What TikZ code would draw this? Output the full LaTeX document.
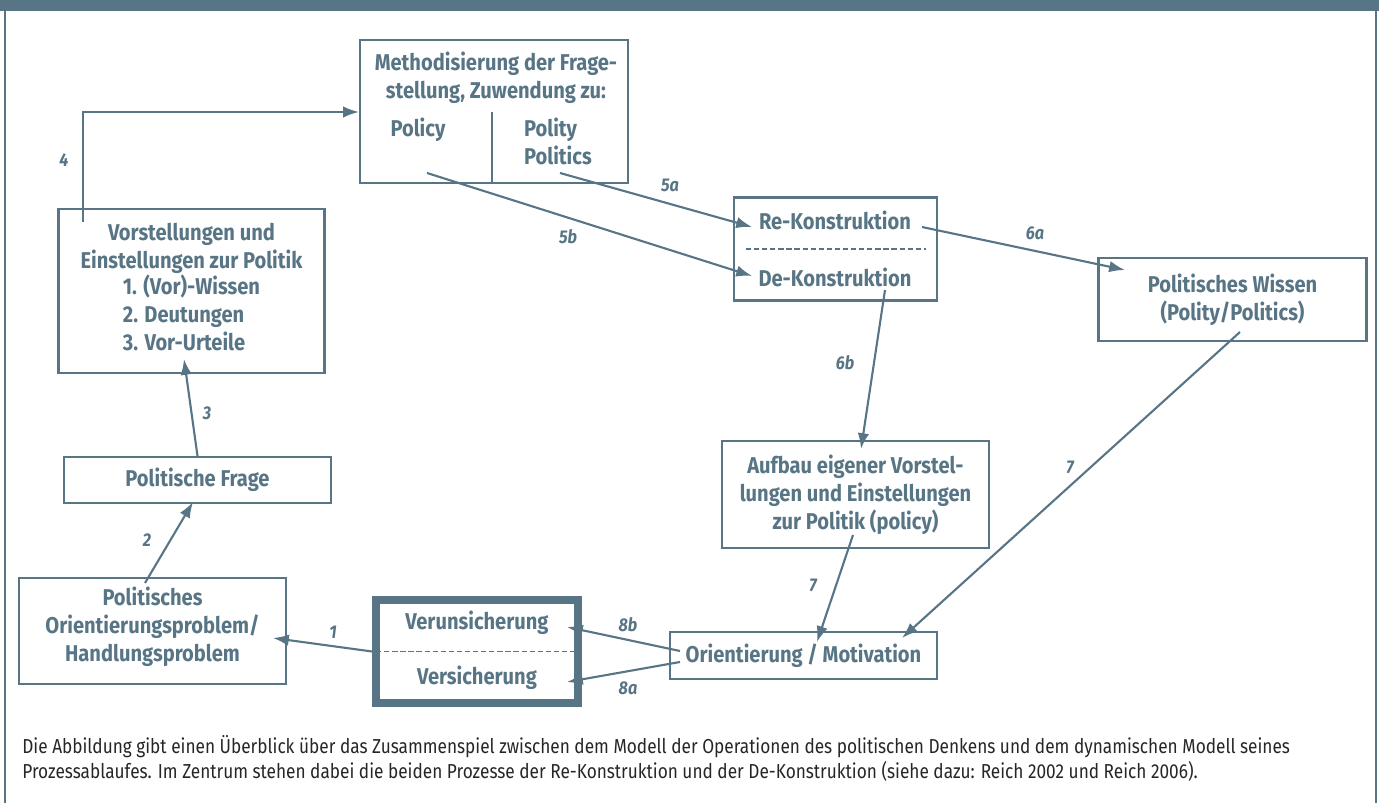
\documentclass[tikz,border=0pt]{standalone}
\usepackage{fontspec}
\setmainfont{Fira Sans}
\newfontfamily\boxfont{Fira Sans}[FakeStretch=0.88]
\newfontfamily\capfont{Fira Sans}[FakeStretch=0.853]
\usetikzlibrary{arrows.meta}
\definecolor{slate}{HTML}{587585}

\tikzset{
    box/.style={draw=slate, line width=1.2pt, inner sep=0pt},
    boxtext/.style={text=slate, align=center, inner sep=1pt,
        font=\boxfont\bfseries\fontsize{13}{16}\selectfont},
    num/.style={text=slate, inner sep=1pt,
        font=\boxfont\bfseries\itshape\fontsize{10.5}{12}\selectfont},
    flow/.style={draw=slate, line width=1.2pt, -{Latex[length=9pt,width=6.5pt]}},
    divide/.style={draw=slate, line width=1pt, dash pattern=on 3pt off 1.6pt},
}

\begin{document}
\begin{tikzpicture}[x=0.02cm, y=-0.02cm]
    \useasboundingbox (0,0) rectangle (1379,803);

    % Frame
    \fill [slate] (0,0) rectangle (1379,11);
    \draw [slate, line width=1.2pt] (5,11) -- (5,803);
    \draw [slate, line width=1.2pt] (1376,11) -- (1376,803);

    % Methodisierung
    \node (meth) [box, minimum width=5.36cm, minimum height=2.86cm] at (494,111.5) {};
    \node (methtitle) [boxtext] at (496,78) {Methodisierung der Frage-\\stellung, Zuwendung zu:};
    \node (policy) [boxtext] at (418,130) {Policy};
    \node (polity) [boxtext, align=left, anchor=west] at (522,141) {Polity\\Politics};
    \coordinate (divtop) at (492,112);
    \draw [slate, line width=1.2pt] (divtop) -- (divtop |- meth.south);

    % Left column
    \node (vorst) [box, boxtext, minimum width=5.32cm, minimum height=3.28cm] at (191.5,291)
        {Vorstellungen und\\Einstellungen zur Politik\\
         \begin{tabular}{@{}l@{}}1. (Vor)-Wissen\\2. Deutungen\\3. Vor-Urteile\end{tabular}};
    \node (frage) [box, boxtext, minimum width=5.34cm, minimum height=0.92cm] at (197.5,480) {Politische Frage};
    \node (orient) [box, minimum width=5.34cm, minimum height=2.12cm] at (152.5,631) {};
    \node (orienttext) [boxtext] at (152.5,627)
        {Politisches\\Orientierungsproblem/\\Handlungsproblem};

    % Verunsicherung / Versicherung
    \node (unsich) [box, line width=4.5pt, minimum width=4.04cm, minimum height=2.06cm] at (477,651.5) {};
    \node (verun) [boxtext] at (477,623) {Verunsicherung};
    \node (versich) [boxtext] at (477,678) {Versicherung};
    \draw [divide] ([xshift=0.08cm]unsich.west) -- ([xshift=-0.12cm]unsich.east);

    % Re-/De-Konstruktion
    \node (konstr) [box, minimum width=4.06cm, minimum height=2.06cm] at (835.5,249) {};
    \node (rekon) [boxtext] at (835,220) {Re-Konstruktion};
    \node (dekon) [boxtext] at (835,277) {De-Konstruktion};
    \draw [divide] ([xshift=0.26cm]konstr.west) -- ([xshift=-0.24cm]konstr.east);

    % Right side
    \node (wissen) [box, boxtext, minimum width=5.36cm, minimum height=1.66cm] at (1232.5,299.5)
        {Politisches Wissen\\(Polity/Politics)};
    \node (aufbau) [box, boxtext, minimum width=5.34cm, minimum height=2.14cm] at (855.5,494.5)
        {Aufbau eigener Vorstel-\\lungen und Einstellungen\\zur Politik (policy)};
    \node (motiv) [box, boxtext, minimum width=5.34cm, minimum height=0.94cm] at (803.5,655.5)
        {Orientierung / Motivation};

    % Arrow ends
    \coordinate (a1e) at (273,638);
    \coordinate (a2s) at (145,583);
    \coordinate (a2e) at (193,502);
    \coordinate (a3e) at (184,359);
    \coordinate (a4s) at (83,222);
    \coordinate (a5as) at (560,173);
    \coordinate (a5ae) at (752,227);
    \coordinate (a5bs) at (427,173);
    \coordinate (a5be) at (752,276);
    \coordinate (a6as) at (922,227);
    \coordinate (a6ae) at (1125,270);
    \coordinate (a6bs) at (885,290);
    \coordinate (a6be) at (861,449);
    \coordinate (a7ls) at (853,535);
    \coordinate (a7le) at (817,642);
    \coordinate (a7rs) at (1240,332);
    \coordinate (a7re) at (902,638);
    \coordinate (a8bs) at (680,651);
    \coordinate (a8be) at (567,627);
    \coordinate (a8as) at (680,662);
    \coordinate (a8ae) at (567,682);

    % Arrows
    \draw [flow] (unsich.west) -- (a1e);
    \draw [flow] (a2s) -- (a2e);
    \draw [flow] (frage.north) -- (a3e);
    \draw [flow] (a4s) |- (meth.west |- divtop);
    \draw [flow] (a5as) -- (a5ae);
    \draw [flow] (a5bs) -- (a5be);
    \draw [flow] (a6as) -- (a6ae);
    \draw [flow] (a6bs) -- (a6be);
    \draw [flow] (a7ls) -- (a7le);
    \draw [flow] (a7rs) -- (a7re);
    \draw [flow] (a8bs) -- (a8be);
    \draw [flow] (a8as) -- (a8ae);

    % Numbers
    \node (n1) [num] at (333,632) {1};
    \node (n2) [num] at (147,540) {2};
    \node (n3) [num] at (207,413) {3};
    \node (n4) [num] at (64,160) {4};
    \node (n5a) [num] at (670,185) {5a};
    \node (n5b) [num] at (568,237) {5b};
    \node (n6a) [num] at (1035,233) {6a};
    \node (n6b) [num] at (845,363) {6b};
    \node (n7l) [num] at (813,585) {7};
    \node (n7r) [num] at (1070,467) {7};
    \node (n8b) [num] at (628,625) {8b};
    \node (n8a) [num] at (628,688) {8a};

    % Caption
    \node (caption) [anchor=base west, align=left, inner sep=0pt, text=black!85,
        font=\capfont\fontsize{11.5}{14.2}\selectfont] at (22,778)
        {Die Abbildung gibt einen Überblick über das Zusammenspiel zwischen dem Modell der Operationen des politischen Denkens und dem dynamischen Modell seines\\
         Prozessablaufes. Im Zentrum stehen dabei die beiden Prozesse der Re-Konstruktion und der De-Konstruktion (siehe dazu: Reich 2002 und Reich 2006).};
\end{tikzpicture}
\end{document}
